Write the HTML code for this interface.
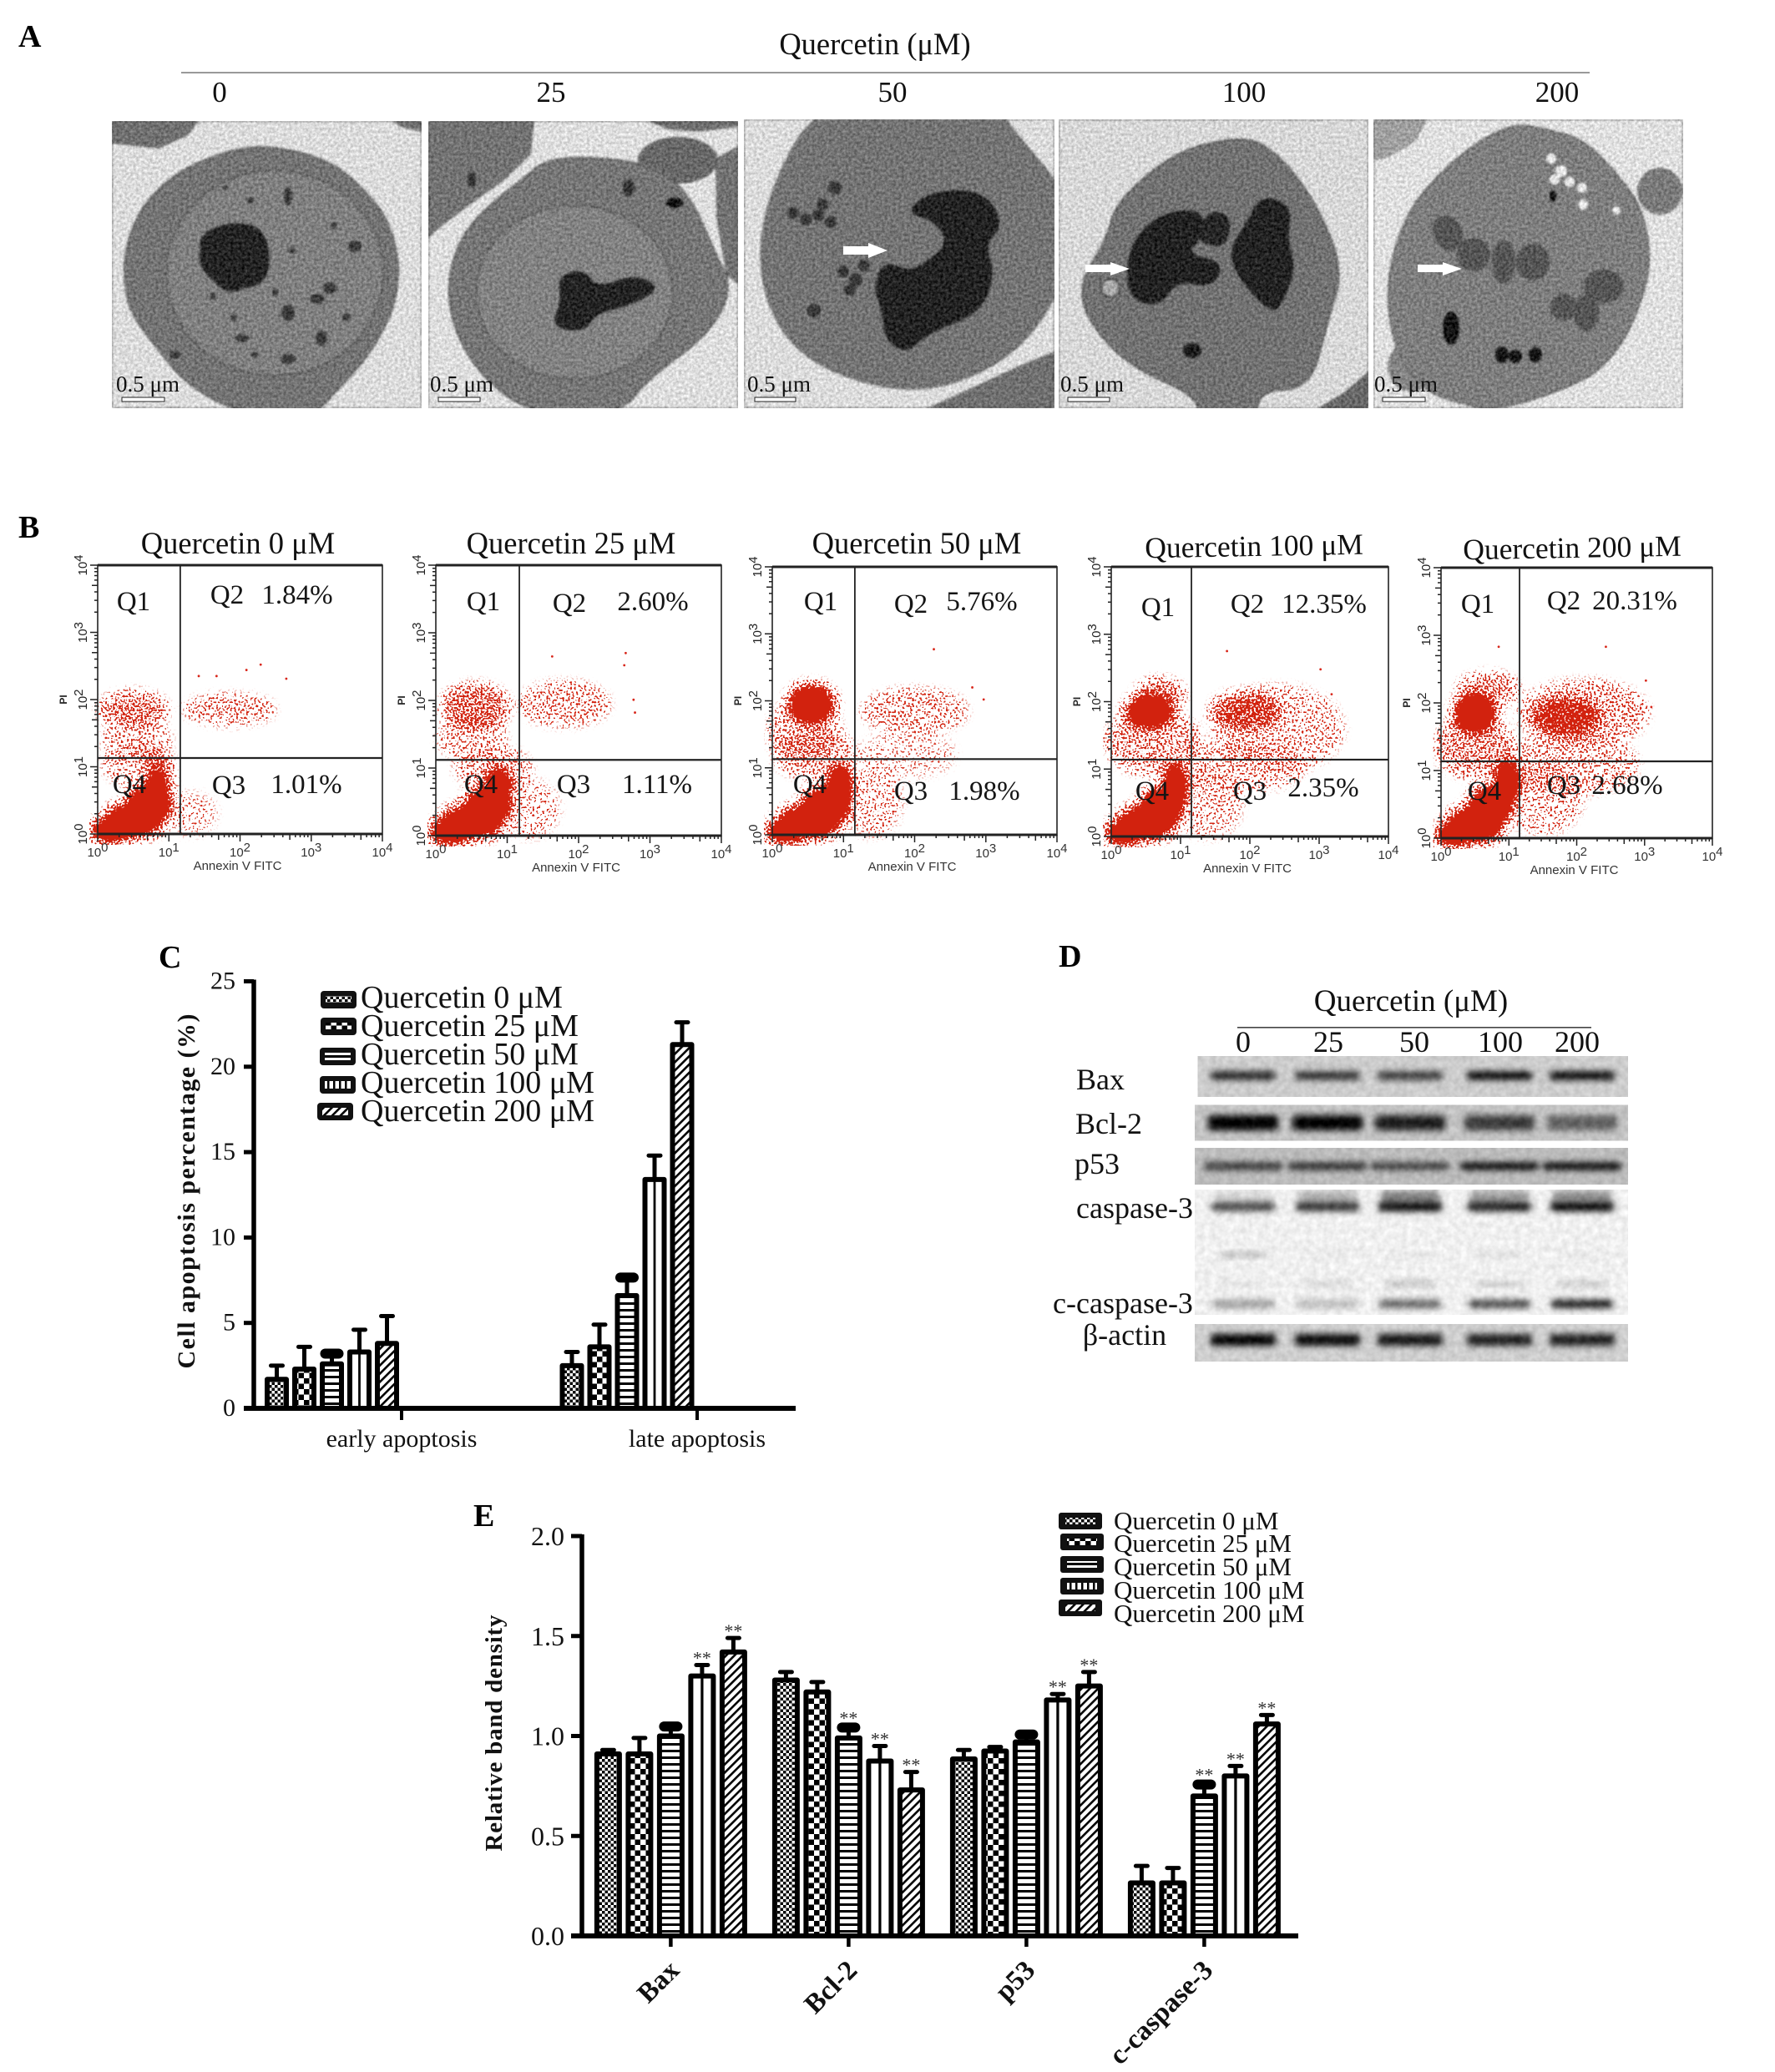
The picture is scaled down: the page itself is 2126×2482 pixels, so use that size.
<!DOCTYPE html>
<html lang="en">
<head>
<meta charset="utf-8">
<title>Quercetin apoptosis figure</title>
<style>
html,body{margin:0;padding:0;background:#fff;}
svg{display:block;}
text{font-family:"Liberation Serif",serif;fill:#111;}
.sans{font-family:"Liberation Sans",sans-serif;}
.panel{font-weight:bold;font-size:38px;fill:#000;}
.big{font-size:36.5px;text-anchor:middle;}
.dose{font-size:35px;text-anchor:middle;}
.ql{font-size:33px;text-anchor:middle;fill:#151515;}
.tt{font-size:36.5px;text-anchor:middle;}
.sb{font-size:27px;}
.blot{font-size:36px;text-anchor:middle;}
</style>
</head>
<body>
<svg id="fig" xmlns="http://www.w3.org/2000/svg" width="2126" height="2482" viewBox="0 0 2126 2482">
<defs>
  <filter id="grain" x="0" y="0" width="100%" height="100%" color-interpolation-filters="sRGB">
    <feGaussianBlur in="SourceGraphic" stdDeviation="1.2" result="s"/>
    <feTurbulence type="fractalNoise" baseFrequency="0.3" numOctaves="3" seed="7" result="n"/>
    <feColorMatrix in="n" type="matrix" values="0 0 0 1 0  0 0 0 1 0  0 0 0 1 0  0 0 0 0 1" result="g"/>
    <feComposite in="s" in2="g" operator="arithmetic" k1="0" k2="1" k3="0.38" k4="-0.19"/>
  </filter>
  <filter id="grainSoft" x="0" y="0" width="100%" height="100%" color-interpolation-filters="sRGB">
    <feTurbulence type="fractalNoise" baseFrequency="0.14" numOctaves="2" seed="4" result="n"/>
    <feColorMatrix in="n" type="matrix" values="0 0 0 1 0  0 0 0 1 0  0 0 0 1 0  0 0 0 0 1" result="g"/>
    <feComposite in="SourceGraphic" in2="g" operator="arithmetic" k1="0" k2="1" k3="0.16" k4="-0.08"/>
  </filter>
  <filter id="bandBlur" x="-20%" y="-100%" width="140%" height="300%"><feGaussianBlur stdDeviation="4"/></filter>
  <filter id="stipple" x="0" y="0" width="100%" height="100%" color-interpolation-filters="sRGB">
    <feGaussianBlur in="SourceAlpha" stdDeviation="6" result="b0"/>
    <feComponentTransfer in="b0" result="b"><feFuncA type="table" tableValues="0 0.1 0.22 0.35 0.5 0.72 1"/></feComponentTransfer>
    <feTurbulence type="fractalNoise" baseFrequency="0.42" numOctaves="1" seed="11" result="t"/>
    <feColorMatrix in="t" type="matrix" values="0 0 0 0 0  0 0 0 0 0  0 0 0 0 0  0 0 0 3.6 -1.3" result="n"/>
    <feComposite in="b" in2="n" operator="arithmetic" k1="0" k2="1.45" k3="1" k4="-1" result="s"/>
    <feComponentTransfer in="s" result="c"><feFuncA type="linear" slope="8" intercept="0"/></feComponentTransfer>
    <feFlood flood-color="#d2220e" result="f"/>
    <feComposite in="f" in2="c" operator="in"/>
  </filter>
  <pattern id="pFine" patternUnits="userSpaceOnUse" width="7" height="7"><rect width="7" height="7" fill="#fff"/><rect width="3.5" height="3.5" fill="#000"/><rect x="3.5" y="3.5" width="3.5" height="3.5" fill="#000"/></pattern>
  <pattern id="pLarge" patternUnits="userSpaceOnUse" width="13" height="13"><rect width="13" height="13" fill="#fff"/><rect width="6.5" height="6.5" fill="#000"/><rect x="6.5" y="6.5" width="6.5" height="6.5" fill="#000"/></pattern>
  <pattern id="pH" patternUnits="userSpaceOnUse" width="8" height="8"><rect width="8" height="8" fill="#fff"/><rect width="8" height="3" fill="#000"/></pattern>
  <pattern id="pV" patternUnits="objectBoundingBox" patternContentUnits="objectBoundingBox" width="1" height="1"><rect width="1" height="1" fill="#fff"/><rect x="0.44" width="0.12" height="1" fill="#000"/></pattern>
  <pattern id="pVs" patternUnits="userSpaceOnUse" width="7" height="7"><rect width="7" height="7" fill="#fff"/><rect width="2.5" height="7" fill="#000"/></pattern>
  <pattern id="pD" patternUnits="userSpaceOnUse" width="7" height="7" patternTransform="rotate(45)"><rect width="7" height="7" fill="#fff"/><rect width="2.6" height="7" fill="#000"/></pattern>
  <clipPath id="c1"><rect x="134" y="145" width="371" height="344"/></clipPath>
  <clipPath id="c2"><rect x="513" y="145" width="371" height="344"/></clipPath>
  <clipPath id="c3"><rect x="891" y="143" width="372" height="346"/></clipPath>
  <clipPath id="c4"><rect x="1268" y="143" width="371" height="346"/></clipPath>
  <clipPath id="c5"><rect x="1645" y="143" width="371" height="346"/></clipPath>
</defs>
<rect width="2126" height="2482" fill="#fff"/>

<!-- PANEL A -->
<g>
  <text class="panel" x="22" y="56">A</text>
  <text class="big" x="1048" y="65">Quercetin (μM)</text>
  <rect x="217" y="86" width="1687" height="2" fill="#999"/>
  <text class="dose" x="263" y="122">0</text>
  <text class="dose" x="660" y="122">25</text>
  <text class="dose" x="1069" y="122">50</text>
  <text class="dose" x="1490" y="122">100</text>
  <text class="dose" x="1865" y="122">200</text>

  <g clip-path="url(#c1)"><g filter="url(#grain)">
    <rect x="134" y="145" width="371" height="344" fill="#dcdcdc"/>
    <polygon points="134,145 238,145 225,162 190,178 134,172" fill="#707070"/>
    <polygon points="470,145 505,145 505,158 480,152" fill="#707070"/>
    <polygon class="s" points="319,175 365,183 407,200 440,232 461,257 473,290 478,321 474,360 461,393 435,435 400,471 380,495 285,495 224,461 190,420 156,375 149,340 149,304 162,262 183,232 215,205 251,189 285,178" fill="#747474" stroke="#666" stroke-width="2"/>
    <ellipse cx="329" cy="327" rx="130" ry="123" fill="#808080" stroke="#5e5e5e" stroke-width="2"/>
    <path d="M240,300 q-5,-25 35,-32 q45,-5 47,35 q5,40 -30,42 q-20,12 -35,-8 q-22,-15 -17,-37z" fill="#242424"/>
    <g fill="#3c3c3c"><ellipse cx="395" cy="345" rx="8" ry="7"/><ellipse cx="380" cy="358" rx="9" ry="6"/><ellipse cx="345" cy="375" rx="8" ry="10"/><ellipse cx="385" cy="405" rx="7" ry="9"/><ellipse cx="425" cy="295" rx="8" ry="7"/><ellipse cx="345" cy="235" rx="5" ry="11"/><ellipse cx="345" cy="430" rx="9" ry="6"/><ellipse cx="290" cy="405" rx="8" ry="5"/><ellipse cx="210" cy="425" rx="6" ry="5"/><circle cx="300" cy="240" r="4"/><circle cx="270" cy="225" r="3"/><circle cx="350" cy="300" r="4"/><circle cx="400" cy="270" r="4"/><circle cx="330" cy="350" r="4"/><circle cx="280" cy="380" r="4"/><circle cx="415" cy="380" r="5"/><circle cx="255" cy="355" r="4"/><circle cx="305" cy="425" r="4"/></g>
  </g>
    <text class="sb" x="139" y="469">0.5 μm</text>
    <rect x="146" y="476" width="51" height="5" fill="#fff" stroke="#222" stroke-width="1"/>
  </g>

  <g clip-path="url(#c2)"><g filter="url(#grain)">
    <rect x="513" y="145" width="371" height="344" fill="#dedede"/>
    <polygon points="513,145 640,145 636,185 605,215 570,240 530,270 513,285" fill="#737373"/>
    <polygon points="775,145 884,145 884,152 835,158 800,155" fill="#707070"/>
    <polygon points="857,190 884,175 884,340 870,330 858,260" fill="#727272"/>
    <ellipse cx="812" cy="192" rx="48" ry="28" fill="#686868"/>
    <polygon class="s" points="655,190 720,188 790,200 830,240 855,300 878,345 850,400 775,455 745,495 635,495 580,455 545,400 535,345 548,290 580,250 625,215" fill="#767676" stroke="#666" stroke-width="2"/>
    <ellipse cx="688" cy="350" rx="118" ry="104" fill="#828282" stroke="#606060" stroke-width="2"/>
    <polygon class="s" points="668,330 700,322 715,345 760,328 794,345 750,368 715,375 700,398 660,392 672,360" fill="#242424"/>
    <ellipse cx="808" cy="243" rx="10" ry="6" fill="#111"/>
    <ellipse cx="753" cy="225" rx="7" ry="10" fill="#333"/>
    <ellipse cx="565" cy="215" rx="5" ry="9" fill="#333"/>
  </g>
    <text class="sb" x="515" y="469">0.5 μm</text>
    <rect x="525" y="476" width="50" height="5" fill="#fff" stroke="#222" stroke-width="1"/>
  </g>

  <g clip-path="url(#c3)"><g filter="url(#grain)">
    <rect x="891" y="143" width="372" height="346" fill="#dcdcdc"/>
    <polygon class="s" points="985,115 922,221 905,321 935,404 997,450 1097,473 1185,446 1246,393 1280,321 1280,232 1219,161 1185,115" fill="#747474"/>
    <polygon points="1110,489 1165,464 1219,439 1263,421 1263,489" fill="#707070"/>
    <polygon class="s" points="1083,254 1117,228 1178,228 1203,268 1180,293 1192,329 1175,375 1110,400 1087,424 1060,408 1056,370 1046,345 1058,312 1090,325 1115,310 1135,290 1120,265" fill="#232323"/>
    <g fill="#383838"><circle cx="950" cy="255" r="7"/><circle cx="965" cy="263" r="7"/><circle cx="980" cy="258" r="7"/><circle cx="995" cy="266" r="7"/><circle cx="985" cy="245" r="7"/><circle cx="1000" cy="225" r="8"/><circle cx="1010" cy="325" r="7"/><circle cx="1025" cy="335" r="8"/><circle cx="1035" cy="318" r="7"/><circle cx="1018" cy="347" r="7"/><circle cx="975" cy="372" r="8"/></g>
  </g>
    <polygon points="1010,295 1040,295 1040,291 1063,300 1040,309 1040,305 1010,305" fill="#fff"/>
    <text class="sb" x="895" y="469">0.5 μm</text>
    <rect x="904" y="476" width="49" height="5" fill="#fff" stroke="#222" stroke-width="1"/>
  </g>

  <g clip-path="url(#c4)"><g filter="url(#grain)">
    <rect x="1268" y="143" width="371" height="346" fill="#d8d8d8"/>
    <polygon points="1579,489 1610,470 1639,445 1639,489" fill="#686868"/>
    <polygon class="s" points="1470,165 1517,170 1571,232 1610,321 1590,386 1570,465 1510,468 1504,500 1439,500 1429,472 1354,440 1303,386 1292,339 1326,286 1336,243 1402,185" fill="#727272" stroke="#606060" stroke-width="2"/>
    <polygon class="s" points="1388,255 1440,250 1443,282 1420,304 1467,314 1453,345 1409,336 1390,368 1350,358 1350,296" fill="#222"/>
    <polygon class="s" points="1449,250 1477,260 1467,300 1428,286" fill="#272727"/>
    <polygon class="s" points="1510,233 1548,246 1542,286 1552,321 1538,360 1524,378 1479,329 1473,296 1493,267" fill="#232323"/>
    <ellipse cx="1428" cy="420" rx="11" ry="9" fill="#1d1d1d"/>
    <ellipse cx="1330" cy="345" rx="11" ry="11" fill="#aaa" stroke="#444" stroke-width="2"/>
  </g>
    <polygon points="1300,317 1330,317 1330,314 1353,322 1330,330 1330,326 1300,326" fill="#fff"/>
    <text class="sb" x="1270" y="469">0.5 μm</text>
    <rect x="1279" y="476" width="50" height="5" fill="#fff" stroke="#222" stroke-width="1"/>
  </g>

  <g clip-path="url(#c5)"><g filter="url(#grain)">
    <rect x="1645" y="143" width="371" height="346" fill="#e0e0e0"/>
    <polygon points="1645,143 1710,143 1695,170 1660,190 1645,192" fill="#a0a0a0"/>
    <ellipse cx="1988" cy="229" rx="27" ry="28" fill="#7a7a7a"/>
    <ellipse cx="1690" cy="439" rx="28" ry="30" fill="#858585"/>
    <polygon class="s" points="1812,148 1850,154 1897,167 1937,208 1968,250 1979,321 1954,393 1928,432 1892,460 1795,492 1750,484 1705,468 1670,421 1659,339 1683,257 1723,208 1768,171" fill="#7e7e7e" stroke="#6e6e6e" stroke-width="2"/>
    <g fill="#e8e8e8"><circle cx="1858" cy="190" r="6"/><circle cx="1870" cy="205" r="7"/><circle cx="1862" cy="215" r="6"/><circle cx="1880" cy="218" r="6"/><circle cx="1895" cy="225" r="6"/><circle cx="1896" cy="245" r="6"/><circle cx="1936" cy="252" r="5"/></g>
    <g fill="#555"><ellipse cx="1734" cy="279" rx="17" ry="22" transform="rotate(-25 1734 279)"/><ellipse cx="1765" cy="305" rx="20" ry="20"/><ellipse cx="1801" cy="314" rx="14" ry="26"/><ellipse cx="1836" cy="314" rx="20" ry="22"/><ellipse cx="1921" cy="343" rx="24" ry="20"/><ellipse cx="1873" cy="368" rx="16" ry="16"/><ellipse cx="1900" cy="375" rx="15" ry="22"/></g>
    <g fill="#151515"><ellipse cx="1738" cy="393" rx="10" ry="20"/><ellipse cx="1799" cy="425" rx="8" ry="10"/><ellipse cx="1815" cy="427" rx="8" ry="8"/><ellipse cx="1839" cy="425" rx="8" ry="9"/><ellipse cx="1860" cy="235" rx="4" ry="7"/></g>
  </g>
    <polygon points="1698,317 1728,317 1728,314 1751,322 1728,330 1728,326 1698,326" fill="#fff"/>
    <text class="sb" x="1646" y="469">0.5 μm</text>
    <rect x="1656" y="476" width="51" height="5" fill="#fff" stroke="#222" stroke-width="1"/>
  </g>
</g>

<!-- PANEL B -->
<g id="panelB">
  <text class="panel" x="22" y="644">B</text>
  <text class="tt" x="285" y="663">Quercetin 0 μM</text>
  <text class="tt" x="684" y="663">Quercetin 25 μM</text>
  <text class="tt" x="1098" y="663">Quercetin 50 μM</text>
  <text class="tt" x="1502" y="666" transform="rotate(-1 1502 654)" style="font-size:35.5px">Quercetin 100 μM</text>
  <text class="tt" x="1883" y="668" transform="rotate(-1 1882 656)" style="font-size:35.5px">Quercetin 200 μM</text>
</g>
<g id="panelBLabels">
  <text class="ql" x="160" y="731">Q1</text><text class="ql" x="272" y="723">Q2</text><text class="ql" x="356" y="723">1.84%</text><text class="ql" x="155" y="950">Q4</text><text class="ql" x="274" y="951">Q3</text><text class="ql" x="367" y="950">1.01%</text>
  <text class="ql" x="579" y="731">Q1</text><text class="ql" x="682" y="733">Q2</text><text class="ql" x="782" y="731">2.60%</text><text class="ql" x="576" y="950">Q4</text><text class="ql" x="687" y="950">Q3</text><text class="ql" x="787" y="950">1.11%</text>
  <text class="ql" x="983" y="731">Q1</text><text class="ql" x="1091" y="734">Q2</text><text class="ql" x="1176" y="731">5.76%</text><text class="ql" x="970" y="950">Q4</text><text class="ql" x="1091" y="958">Q3</text><text class="ql" x="1179" y="958">1.98%</text>
  <text class="ql" x="1387" y="738">Q1</text><text class="ql" x="1494" y="734">Q2</text><text class="ql" x="1586" y="734">12.35%</text><text class="ql" x="1380" y="958">Q4</text><text class="ql" x="1497" y="958">Q3</text><text class="ql" x="1585" y="954">2.35%</text>
  <text class="ql" x="1770" y="734">Q1</text><text class="ql" x="1873" y="730">Q2</text><text class="ql" x="1958" y="730">20.31%</text><text class="ql" x="1778" y="958">Q4</text><text class="ql" x="1873" y="951">Q3</text><text class="ql" x="1949" y="951">2.68%</text>
</g>

<!-- PANEL C -->
<g id="panelC">
  <text class="panel" x="190" y="1159">C</text>
  <text transform="translate(233 1427) rotate(-90)" text-anchor="middle" font-weight="bold" font-size="30" textLength="425" lengthAdjust="spacing" style="fill:#111">Cell apoptosis percentage (%)</text>
</g>
<g>
  <rect x="384" y="1187" width="43" height="21" rx="4" fill="#111"/><rect x="390" y="1193" width="31" height="8" fill="url(#pFine)"/>
  <text x="432" y="1207" font-size="38">Quercetin 0 μM</text>
  <rect x="384" y="1219" width="43" height="21" rx="4" fill="#111"/><rect x="390" y="1225" width="31" height="8" fill="url(#pLarge)"/>
  <text x="432" y="1241" font-size="38">Quercetin 25 μM</text>
  <rect x="383" y="1255" width="43" height="21" rx="4" fill="#111"/><rect x="389" y="1261" width="31" height="9" fill="url(#pH)"/>
  <text x="432" y="1275" font-size="38">Quercetin 50 μM</text>
  <rect x="383" y="1289" width="43" height="21" rx="4" fill="#111"/><rect x="389" y="1295" width="31" height="9" fill="url(#pVs)"/>
  <text x="432" y="1309" font-size="38">Quercetin 100 μM</text>
  <rect x="380" y="1321" width="43" height="21" rx="4" fill="#111"/><rect x="386" y="1327" width="31" height="9" fill="url(#pD)"/>
  <text x="432" y="1343" font-size="38">Quercetin 200 μM</text>
</g>

<!-- PANEL D -->
<g id="panelD">
  <text class="panel" x="1268" y="1158">D</text>
  <text class="big" x="1690" y="1211" style="font-size:37px">Quercetin (μM)</text>
  <rect x="1482" y="1230" width="424" height="1.6" fill="#444"/>
  <text class="blot" x="1489" y="1260">0</text>
  <text class="blot" x="1591" y="1260">25</text>
  <text class="blot" x="1694" y="1260">50</text>
  <text class="blot" x="1797" y="1260">100</text>
  <text class="blot" x="1889" y="1260">200</text>
  <text class="blot" x="1318" y="1305">Bax</text>
  <text class="blot" x="1328" y="1358">Bcl-2</text>
  <text class="blot" x="1314" y="1406">p53</text>
  <text class="blot" x="1359" y="1459">caspase-3</text>
  <text class="blot" x="1345" y="1573">c-caspase-3</text>
  <text class="blot" x="1347" y="1611">β-actin</text>
</g>

<!-- PANEL E -->
<g id="panelE">
  <text class="panel" x="567" y="1828">E</text>
  <text transform="translate(601 2076) rotate(-90)" text-anchor="middle" font-weight="bold" font-size="29" textLength="283" lengthAdjust="spacing" style="fill:#111">Relative band density</text>
</g>
<g>
  <rect x="1268" y="1812" width="52" height="20" rx="3" fill="#111"/><rect x="1276" y="1818" width="36" height="8" fill="url(#pFine)"/>
  <text x="1334" y="1832" font-size="31">Quercetin 0 μM</text>
  <rect x="1270" y="1837" width="52" height="20" rx="3" fill="#111"/><rect x="1278" y="1843" width="36" height="8" fill="url(#pLarge)"/>
  <text x="1334" y="1859" font-size="31">Quercetin 25 μM</text>
  <rect x="1270" y="1864" width="52" height="20" rx="3" fill="#111"/><rect x="1278" y="1870" width="36" height="8" fill="url(#pH)"/>
  <text x="1334" y="1887" font-size="31">Quercetin 50 μM</text>
  <rect x="1270" y="1890" width="52" height="20" rx="3" fill="#111"/><rect x="1278" y="1896" width="36" height="8" fill="url(#pVs)"/>
  <text x="1334" y="1915" font-size="31">Quercetin 100 μM</text>
  <rect x="1268" y="1916" width="52" height="20" rx="3" fill="#111"/><rect x="1276" y="1922" width="36" height="8" fill="url(#pD)"/>
  <text x="1334" y="1943" font-size="31">Quercetin 200 μM</text>
</g>
</svg>

<script>
/* ---------- Panel C data ---------- */
const cCategories = ['early apoptosis', 'late apoptosis'];
const cTickLabels = [0, 5, 10, 15, 20, 25];
const cEarlyMeans = [1.7, 2.3, 2.6, 3.3, 3.8];
const cEarlyUpper = [2.5, 3.6, 3.35, 4.6, 5.4];
const cLateMeans = [2.5, 3.6, 6.6, 13.4, 21.3];
const cLateUpper = [3.3, 4.9, 7.8, 14.8, 22.6];

/* ---------- Panel E data ---------- */
const eCategories = ['Bax', 'Bcl-2', 'p53', 'c-caspase-3'];
const eTickLabels = ['0.0', '0.5', '1.0', '1.5', '2.0'];
const eBaxMeans = [0.91, 0.91, 1.0, 1.3, 1.42];
const eBaxUpper = [0.93, 0.99, 1.06, 1.355, 1.49];
const eBaxSig = [0, 0, 0, 1, 1];
const eBcl2Means = [1.28, 1.22, 0.99, 0.875, 0.73];
const eBcl2Upper = [1.32, 1.27, 1.055, 0.95, 0.82];
const eBcl2Sig = [0, 0, 1, 1, 1];
const eP53Means = [0.885, 0.925, 0.97, 1.18, 1.25];
const eP53Upper = [0.93, 0.945, 1.02, 1.21, 1.32];
const eP53Sig = [0, 0, 0, 1, 1];
const eCasMeans = [0.265, 0.265, 0.70, 0.80, 1.06];
const eCasUpper = [0.35, 0.34, 0.77, 0.85, 1.105];
const eCasSig = [0, 0, 1, 1, 1];

/* ---------- Panel D data: band intensity per lane (0,25,50,100,200) ---------- */
const baxBands = [0.85, 0.8, 0.75, 1, 1];
const bcl2Bands = [1, 1, 0.85, 0.7, 0.5];
const p53Bands = [0.75, 0.8, 0.7, 1, 1];
const caspaseBands = [0.7, 0.8, 1, 0.9, 1];
const caspaseHaloBands = [0.1, 0.25, 0.45, 0.35, 0.4];
const faintUpperBands = [0.3, 0.05, 0.05, 0.1, 0.05];
const faintLowerBands = [0.05, 0.12, 0.22, 0.15, 0.18];
const cleavedBands = [0.35, 0.22, 0.6, 0.7, 0.9];
const actinBands = [1, 0.95, 0.9, 0.85, 0.85];

/* ---------- Panel B data: log10 units (decades) of Annexin V / PI ---------- */
const p1CloudX = [0.5, 0.55, 1.85, 0.55, 0.2, 0.5, 0.72, 0.85, 0.85, 1.3];
const p1CloudY = [1.85, 1.4, 1.85, 1.05, 0.05, 0.2, 0.42, 0.68, 0.95, 0.3];
const p1SpreadX = [0.45, 0.45, 0.6, 0.45, 0.3, 0.42, 0.33, 0.18, 0.18, 0.35];
const p1SpreadY = [0.25, 0.3, 0.2, 0.3, 0.2, 0.26, 0.3, 0.28, 0.3, 0.3];
const p1Density = [0.45, 0.22, 0.3, 0.25, 1, 1, 1, 0.9, 0.45, 0.14];
const p1OutlierX = [2.29, 2.09, 2.65, 1.42, 1.67];
const p1OutlierY = [2.52, 2.44, 2.31, 2.35, 2.35];
const p1Gates = [1.16, 1.13];

const p2CloudX = [0.55, 0.5, 1.8, 0.8, 0.2, 0.5, 0.72, 0.88, 1.3];
const p2CloudY = [1.9, 1.45, 1.95, 1.0, 0.05, 0.2, 0.42, 0.7, 0.4];
const p2SpreadX = [0.45, 0.45, 0.6, 0.5, 0.3, 0.44, 0.34, 0.2, 0.4];
const p2SpreadY = [0.32, 0.3, 0.3, 0.28, 0.2, 0.26, 0.3, 0.32, 0.4];
const p2Density = [0.5, 0.25, 0.28, 0.3, 1, 1, 1, 1, 0.18];
const p2OutlierX = [1.63, 2.66, 2.64, 2.77, 2.79];
const p2OutlierY = [2.65, 2.7, 2.52, 2.01, 1.82];
const p2Gates = [1.17, 1.12];

const p3CloudX = [0.55, 0.45, 0.6, 2.0, 1.9, 0.2, 0.52, 0.75, 0.95, 1.4];
const p3CloudY = [1.95, 1.55, 1.2, 1.85, 1.2, 0.05, 0.2, 0.42, 0.72, 0.5];
const p3SpreadX = [0.33, 0.48, 0.55, 0.7, 0.65, 0.3, 0.44, 0.35, 0.2, 0.4];
const p3SpreadY = [0.3, 0.42, 0.33, 0.3, 0.33, 0.2, 0.26, 0.3, 0.34, 0.5];
const p3Density = [1, 0.3, 0.3, 0.28, 0.12, 1, 1, 1, 0.95, 0.18];
const p3OutlierX = [2.27, 2.81, 2.97];
const p3OutlierY = [2.77, 2.2, 2.02];
const p3Gates = [1.16, 1.13];

const p4CloudX = [0.55, 0.7, 0.6, 1.95, 2.4, 1.9, 0.2, 0.5, 0.72, 0.92, 1.4];
const p4CloudY = [1.85, 2.1, 1.4, 1.85, 1.6, 1.05, 0.05, 0.2, 0.42, 0.72, 0.5];
const p4SpreadX = [0.35, 0.33, 0.65, 0.5, 0.9, 0.85, 0.3, 0.42, 0.32, 0.2, 0.45];
const p4SpreadY = [0.25, 0.22, 0.45, 0.28, 0.6, 0.35, 0.2, 0.26, 0.3, 0.36, 0.5];
const p4Density = [1, 0.5, 0.35, 0.55, 0.22, 0.25, 1, 1, 1, 1, 0.2];
const p4OutlierX = [1.67, 3.02, 3.18];
const p4OutlierY = [2.75, 2.48, 2.11];
const p4Gates = [1.157, 1.14];

const p5CloudX = [0.5, 0.5, 0.7, 1.85, 2.1, 1.9, 0.2, 0.5, 0.72, 0.97, 1.5];
const p5CloudY = [1.85, 1.35, 2.2, 1.8, 1.85, 1.1, 0.05, 0.2, 0.45, 0.8, 0.6];
const p5SpreadX = [0.32, 0.55, 0.42, 0.5, 0.9, 0.95, 0.3, 0.42, 0.32, 0.2, 0.55];
const p5SpreadY = [0.3, 0.42, 0.22, 0.27, 0.45, 0.42, 0.2, 0.28, 0.32, 0.36, 0.5];
const p5Density = [1, 0.4, 0.4, 0.65, 0.32, 0.26, 1, 1, 1, 1, 0.22];
const p5OutlierX = [2.43, 0.85, 3.02, 3.1];
const p5OutlierY = [2.83, 2.83, 2.33, 1.94];
const p5Gates = [1.157, 1.136];

const NS = 'http://www.w3.org/2000/svg';
function mk(tag, attrs, parent) {
  const el = document.createElementNS(NS, tag);
  for (const k in attrs) el.setAttribute(k, attrs[k]);
  if (parent) parent.appendChild(el);
  return el;
}

/* ---------- smooth the micrograph outlines ---------- */
document.querySelectorAll('polygon.s').forEach(poly => {
  const nums = poly.getAttribute('points').trim().split(/[\s,]+/).map(Number);
  const pts = [];
  for (let i = 0; i < nums.length; i += 2) pts.push([nums[i], nums[i + 1]]);
  const mid = (a, b) => [(a[0] + b[0]) / 2, (a[1] + b[1]) / 2];
  const start = mid(pts[0], pts[1]);
  let d = `M${start[0]} ${start[1]}`;
  for (let i = 1; i <= pts.length; i++) {
    const c = pts[i % pts.length], m = mid(c, pts[(i + 1) % pts.length]);
    d += `Q${c[0]} ${c[1]} ${m[0]} ${m[1]}`;
  }
  const path = mk('path', {d: d + 'Z', fill: poly.getAttribute('fill')});
  if (poly.getAttribute('stroke')) {
    path.setAttribute('stroke', poly.getAttribute('stroke'));
    path.setAttribute('stroke-width', poly.getAttribute('stroke-width'));
  }
  poly.replaceWith(path);
});

/* ---------- flow cytometry ---------- */
const panelB = document.getElementById('panelB');
function drawFlow(id, box, cx, cy, sx, sy, dens, ox, oy, gates) {
  const pw = box.r - box.l, ph = box.b - box.t;
  const xS = v => box.l + v / 4 * pw;
  const yS = v => box.b - v / 4 * ph;
  const g = mk('g', {}, panelB);
  
  
  const cloud = mk('g', {filter: 'url(#stipple)'}, g);
  
  
  mk('rect', {x: box.l, y: box.t, width: pw, height: ph, fill: '#000', 'fill-opacity': 0.001}, cloud);
  cx.forEach((v, i) => {
    const e = mk('ellipse', {cx: xS(v), cy: yS(cy[i]), rx: sx[i] / 4 * pw * 1.05, ry: sy[i] / 4 * ph * 1.05, fill: '#000', 'fill-opacity': Math.min(1, dens[i] * 1.1)}, cloud);
    
    
  });
  ox.forEach((v, i) => {
    const d = mk('circle', {cx: xS(v), cy: yS(oy[i]), r: 1.4, fill: '#d8261a'}, g);
    
    
  });
  const frame = mk('rect', {x: box.l, y: box.t, width: pw, height: ph, fill: 'none', stroke: '#222', 'stroke-width': 1.6}, g);
  
  
  const tb = mk('path', {d: `M${box.l} ${box.t}H${box.r}M${box.l} ${box.b}H${box.r}`, stroke: '#222', 'stroke-width': 3, fill: 'none'}, g);
  
  
  const vg = mk('line', {x1: xS(gates[0]), x2: xS(gates[0]), y1: box.t, y2: box.b, stroke: '#222', 'stroke-width': 1.8}, g);
  
  
  const hg = mk('line', {x1: box.l, x2: box.r, y1: yS(gates[1]), y2: yS(gates[1]), stroke: '#222', 'stroke-width': 2.2}, g);
  
  
  let dx = '', dy = '';
  for (let d = 0; d < 4; d++) for (let m = 1; m < 10; m++) {
    const v = d + Math.log10(m), len = m === 1 ? 9 : (m === 5 ? 7 : 4);
    dx += `M${xS(v).toFixed(1)} ${box.b}v${len}`;
    dy += `M${box.l} ${yS(v).toFixed(1)}h${-len}`;
  }
  dx += `M${box.r} ${box.b}v9`; dy += `M${box.l} ${box.t}h-9`;
  const tx = mk('path', {d: dx, stroke: '#222', 'stroke-width': 1.5, fill: 'none'}, g);
  
  
  const ty = mk('path', {d: dy, stroke: '#222', 'stroke-width': 1.5, fill: 'none'}, g);
  
  
  for (let d = 0; d <= 4; d++) {
    const xl = mk('text', {x: xS(d), y: box.b + 27, 'text-anchor': 'middle', 'font-size': 15, 'class': 'sans', style: 'fill:#333'}, g);
    
    
    xl.innerHTML = `10<tspan dy="-6">${d}</tspan>`;
    const yl = mk('text', {transform: `translate(${box.l - 13} ${yS(d)}) rotate(-90)`, 'text-anchor': 'middle', 'font-size': 15, 'class': 'sans', style: 'fill:#222'}, g);
    
    
    yl.innerHTML = `10<tspan dy="-5">${d}</tspan>`;
  }
  const xt = mk('text', {x: (box.l + box.r) / 2 - 3, y: box.b + 43, 'text-anchor': 'middle', 'font-size': 15, 'class': 'sans', style: 'fill:#333'}, g);
  
  
  xt.textContent = 'Annexin V FITC';
  const yt = mk('text', {transform: `translate(${box.l - 37} ${yS(2)}) rotate(-90)`, 'text-anchor': 'middle', 'font-size': 12, 'font-weight': 'bold', 'class': 'sans', style: 'fill:#222'}, g);
  
  
  yt.textContent = 'PI';
}
drawFlow('0', {l: 117, r: 458, t: 677, b: 999}, p1CloudX, p1CloudY, p1SpreadX, p1SpreadY, p1Density, p1OutlierX, p1OutlierY, p1Gates);
drawFlow('25', {l: 522, r: 864, t: 677, b: 1001}, p2CloudX, p2CloudY, p2SpreadX, p2SpreadY, p2Density, p2OutlierX, p2OutlierY, p2Gates);
drawFlow('50', {l: 925, r: 1266, t: 679, b: 1000}, p3CloudX, p3CloudY, p3SpreadX, p3SpreadY, p3Density, p3OutlierX, p3OutlierY, p3Gates);
drawFlow('100', {l: 1331, r: 1663, t: 679, b: 1002}, p4CloudX, p4CloudY, p4SpreadX, p4SpreadY, p4Density, p4OutlierX, p4OutlierY, p4Gates);
drawFlow('200', {l: 1726, r: 2051, t: 680, b: 1004}, p5CloudX, p5CloudY, p5SpreadX, p5SpreadY, p5Density, p5OutlierX, p5OutlierY, p5Gates);
panelB.parentNode.appendChild(document.getElementById('panelBLabels'));

/* ---------- bars ---------- */
const fills = ['url(#pFine)', 'url(#pLarge)', 'url(#pH)', 'url(#pV)', 'url(#pD)'];
const doses = ['0', '25', '50', '100', '200'];
function drawBars(parent, prefix, base, step, barW, yS, means, upper, sig) {
  means.forEach((v, i) => {
    const x = base + i * step, top = yS(v), up = yS(upper[i]), y0 = yS(0);
    const stem = mk('line', {x1: x, x2: x, y1: top, y2: up, stroke: '#000', 'stroke-width': 5}, parent);
    
    
    const heavy = i === 2;
    const cap = mk('line', {x1: x - (heavy ? 8 : 7), x2: x + (heavy ? 8 : 7), y1: up + (heavy ? 3 : 0), y2: up + (heavy ? 3 : 0), stroke: '#000', 'stroke-width': heavy ? 12 : 5, 'stroke-linecap': 'round'}, parent);
    
    
    const bar = mk('rect', {x: x - barW / 2, y: top, width: barW, height: y0 - top, fill: fills[i], stroke: '#000', 'stroke-width': 6, 'stroke-linejoin': 'round'}, parent);
    
    
    if (sig && sig[i]) {
      const s = mk('text', {x: x, y: up - 1, 'text-anchor': 'middle', 'font-size': 22, style: 'fill:#333'}, parent);
      
      
      s.textContent = '**';
    }
  });
}

/* Panel C chart */
const panelC = document.getElementById('panelC');
const cY = v => 1687 - v * 20.46;
drawBars(panelC, 'c-early', 331.5, 33, 23, cY, cEarlyMeans, cEarlyUpper, null);
drawBars(panelC, 'c-late', 685, 33, 23, cY, cLateMeans, cLateUpper, null);
const cYaxis = mk('line', {x1: 304, x2: 304, y1: cY(25) - 2, y2: cY(0) + 2, stroke: '#000', 'stroke-width': 5.5}, panelC);


const cXaxis = mk('line', {x1: 292, x2: 953, y1: cY(0), y2: cY(0), stroke: '#000', 'stroke-width': 6}, panelC);


cTickLabels.forEach(v => {
  const t = mk('line', {x1: 292, x2: 304, y1: cY(v), y2: cY(v), stroke: '#000', 'stroke-width': 5}, panelC);
  
  
  const l = mk('text', {x: 282, y: cY(v) + 9, 'text-anchor': 'end', 'font-size': 30}, panelC);
  
  
  l.textContent = v;
});
cCategories.forEach((c, i) => {
  const x = 481 + i * 354;
  const t = mk('line', {x1: x, x2: x, y1: 1687, y2: 1701, stroke: '#000', 'stroke-width': 4}, panelC);
  
  
  const l = mk('text', {x: x, y: 1733, 'text-anchor': 'middle', 'font-size': 30}, panelC);
  
  
  l.textContent = c;
});

/* Panel E chart */
const panelE = document.getElementById('panelE');
const eY = v => 2319 - v * 239.5;
const eGroups = [[eBaxMeans, eBaxUpper, eBaxSig], [eBcl2Means, eBcl2Upper, eBcl2Sig], [eP53Means, eP53Upper, eP53Sig], [eCasMeans, eCasUpper, eCasSig]];
eGroups.forEach((g, i) => {
  const tick = 803.4 + i * 213;
  drawBars(panelE, 'e-' + eCategories[i].toLowerCase(), tick - 75, 37.5, 27, eY, g[0], g[1], g[2]);
});
const eYaxis = mk('line', {x1: 697, x2: 697, y1: eY(2) - 2, y2: eY(0) + 2, stroke: '#000', 'stroke-width': 5.5}, panelE);


const eXaxis = mk('line', {x1: 684, x2: 1555, y1: eY(0), y2: eY(0), stroke: '#000', 'stroke-width': 6}, panelE);


eTickLabels.forEach(s => {
  const v = parseFloat(s);
  const t = mk('line', {x1: 684, x2: 697, y1: eY(v), y2: eY(v), stroke: '#000', 'stroke-width': 5}, panelE);
  
  
  const l = mk('text', {x: 676, y: eY(v) + 11, 'text-anchor': 'end', 'font-size': 32}, panelE);
  
  
  l.textContent = s;
});
eCategories.forEach((c, i) => {
  const x = 803.4 + i * 213;
  const t = mk('line', {x1: x, x2: x, y1: 2319, y2: 2332, stroke: '#000', 'stroke-width': 4.5}, panelE);
  
  
  const l = mk('text', {transform: `translate(${x + 12} 2362) rotate(-45)`, 'text-anchor': 'end', 'font-size': 33, 'font-weight': 'bold'}, panelE);
  
  
  l.textContent = c;
});

/* Panel D blots */
const panelD = document.getElementById('panelD');
const laneX = i => [1489, 1590, 1689, 1796, 1895][i];
function drawBlot(name, x0, y0, w, h, bg, layers) {
  const g = mk('g', {filter: 'url(#grainSoft)'}, panelD);
  
  
  mk('rect', {x: x0, y: y0, width: w, height: h, fill: bg}, g);
  layers.forEach(L => {
    const lg = mk('g', {filter: 'url(#bandBlur)'}, g);
    L.values.forEach((v, i) => {
      const b = mk('rect', {x: laneX(i) - L.w / 2, y: L.y - L.t / 2, width: L.w, height: L.t, rx: 4, fill: '#000', 'fill-opacity': v}, lg);
      
      
    });
  });
}
drawBlot('bax', 1434.5, 1265, 515.5, 49, '#cdcdcd', [{values: baxBands, y: 1288.5, t: 10, w: 78}]);
drawBlot('bcl2', 1431, 1323.5, 519, 43, '#c4c4c4', [{values: bcl2Bands, y: 1345, t: 18, w: 84}]);
drawBlot('p53', 1431, 1375, 519, 44, '#bcbcbc', [{values: p53Bands, y: 1397, t: 9, w: 94}]);
drawBlot('caspase3', 1431, 1425, 519, 150, '#f0f0f0', [
  {values: caspaseHaloBands, y: 1434, t: 16, w: 70},
  {values: caspaseBands, y: 1445.5, t: 11, w: 76},
  {values: faintUpperBands, y: 1503, t: 5, w: 56},
  {values: faintLowerBands, y: 1538, t: 7, w: 60},
  {values: cleavedBands, y: 1562, t: 10, w: 74}
]);
drawBlot('beta-actin', 1431, 1586, 519, 45, '#cfcfcf', [{values: actinBands, y: 1605, t: 14, w: 78}]);
</script>
</body>
</html>
